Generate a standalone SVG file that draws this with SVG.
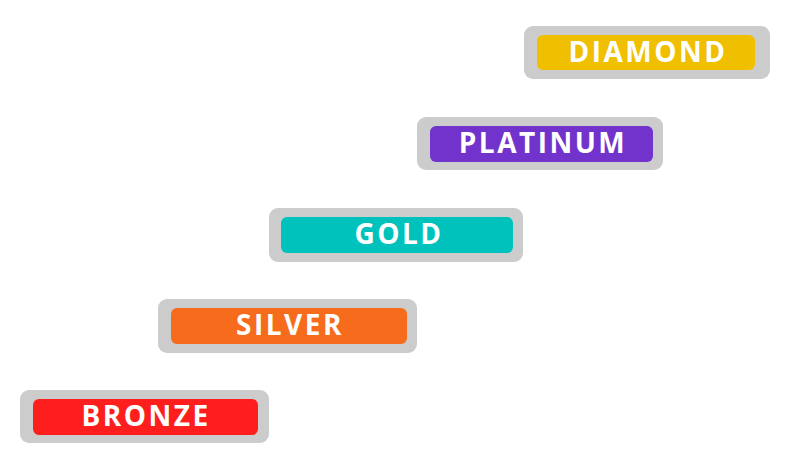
<svg xmlns="http://www.w3.org/2000/svg" width="787" height="462" viewBox="0 0 787 462">
  <style>
    .frame { fill: #cccccc; }
    .label { fill: #ffffff; font-family: "Open Sans", "Liberation Sans", sans-serif; font-weight: 700; font-size: 28px; letter-spacing: 2.5px; text-anchor: middle; }
  </style>
  <rect width="787" height="462" fill="#ffffff"/>
  <g id="diamond">
    <rect class="frame" x="524" y="26" width="246" height="53" rx="9"/>
    <rect x="537" y="35" width="218" height="35" rx="6" fill="#f0c000"/>
    <text class="label" x="648" y="62">DIAMOND</text>
  </g>
  <g id="platinum">
    <rect class="frame" x="417" y="117" width="246" height="53" rx="9"/>
    <rect x="430" y="126" width="223" height="36" rx="6" fill="#7233cc"/>
    <text class="label" x="543" y="153">PLATINUM</text>
  </g>
  <g id="gold">
    <rect class="frame" x="269" y="208" width="254" height="54" rx="9"/>
    <rect x="281" y="217" width="232" height="36" rx="6" fill="#00c2bc"/>
    <text class="label" x="399" y="244">GOLD</text>
  </g>
  <g id="silver">
    <rect class="frame" x="158" y="299" width="259" height="54" rx="9"/>
    <rect x="171" y="308" width="236" height="36" rx="6" fill="#f76b1c"/>
    <text class="label" x="290" y="335">SILVER</text>
  </g>
  <g id="bronze">
    <rect class="frame" x="20" y="390" width="249" height="53" rx="9"/>
    <rect x="33" y="399" width="225" height="36" rx="6" fill="#ff1e1e"/>
    <text class="label" x="146" y="426">BRONZE</text>
  </g>
  <g id="connectors"></g>
</svg>
